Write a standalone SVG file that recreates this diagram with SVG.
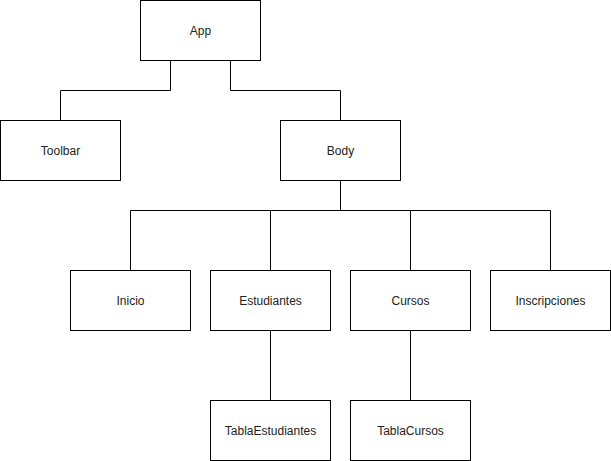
<svg xmlns="http://www.w3.org/2000/svg" width="611" height="461" viewBox="0 0 611 461">
<style>
.box rect{fill:#fff;stroke:#000;stroke-width:1}
.box text{font-family:"Liberation Sans",Arial,sans-serif;font-size:12px;fill:#222;text-anchor:middle;dominant-baseline:central}
.edges path{fill:none;stroke:#000;stroke-width:1}
</style>
<rect width="611" height="461" fill="#fff"/>
<g class="edges" id="connectors">
<path d="M170.5 60.5V90.5H60.5V120.5"/>
<path d="M230.5 60.5V90.5H340.5V120.5"/>
<path d="M340.5 180.5V210.5H130.5V270.5"/>
<path d="M340.5 210.5H270.5V270.5"/>
<path d="M340.5 210.5H410.5V270.5"/>
<path d="M340.5 210.5H550.5V270.5"/>
<path d="M270.5 330.5V400.5"/>
<path d="M410.5 330.5V400.5"/>
</g>
<g class="box" id="app"><rect x="140.5" y="0.5" width="120" height="60"/><text x="200.5" y="30.5">App</text></g>
<g class="box" id="toolbar"><rect x="0.5" y="120.5" width="120" height="60"/><text x="60.5" y="150.5">Toolbar</text></g>
<g class="box" id="body"><rect x="280.5" y="120.5" width="120" height="60"/><text x="340.5" y="150.5">Body</text></g>
<g class="box" id="inicio"><rect x="70.5" y="270.5" width="120" height="60"/><text x="130.5" y="300.5">Inicio</text></g>
<g class="box" id="estudiantes"><rect x="210.5" y="270.5" width="120" height="60"/><text x="270.5" y="300.5">Estudiantes</text></g>
<g class="box" id="cursos"><rect x="350.5" y="270.5" width="120" height="60"/><text x="410.5" y="300.5">Cursos</text></g>
<g class="box" id="inscripciones"><rect x="490.5" y="270.5" width="120" height="60"/><text x="550.5" y="300.5">Inscripciones</text></g>
<g class="box" id="tablaEstudiantes"><rect x="210.5" y="400.5" width="120" height="60"/><text x="270.5" y="430.5">TablaEstudiantes</text></g>
<g class="box" id="tablaCursos"><rect x="350.5" y="400.5" width="120" height="60"/><text x="410.5" y="430.5">TablaCursos</text></g>
</svg>
